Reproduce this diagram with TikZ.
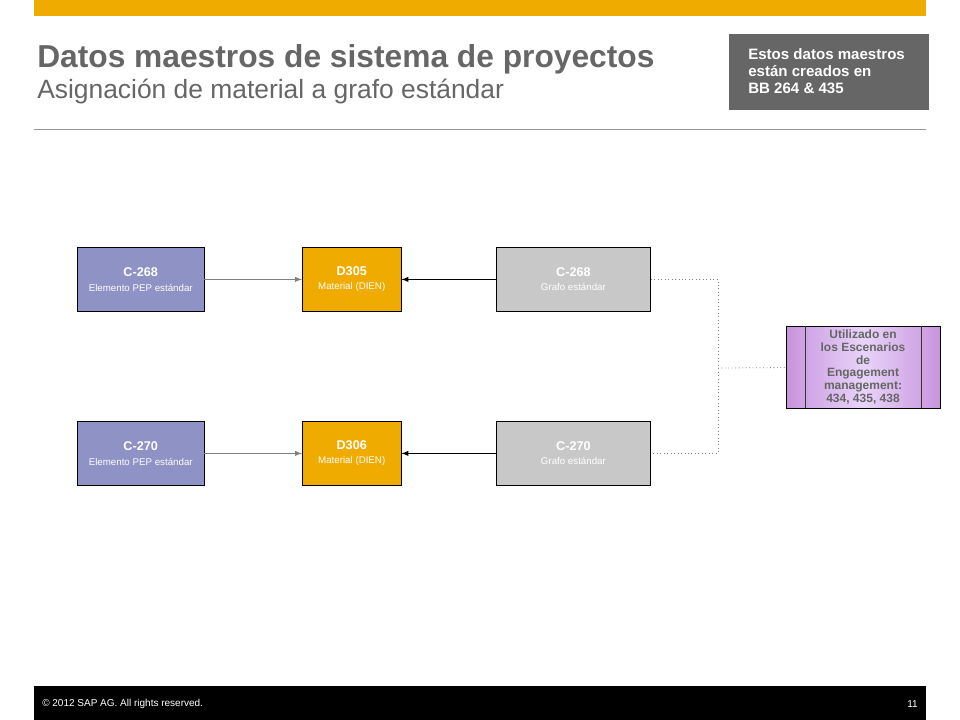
\documentclass[tikz,border=0pt]{standalone}
\usepackage{fontspec}
\setmainfont{Liberation Sans}
\newcommand{\smalltxt}{\fontsize{7.3}{8.5}\selectfont}
\begin{document}
\begin{tikzpicture}[x=0.75pt,y=-0.75pt,
 box/.style={draw=black,line width=0.6pt,anchor=north west,inner sep=0pt,align=center,font=\fontsize{9.5}{10.5}\selectfont,text=white},
 dot/.style={draw=gray,dotted,line width=0.6pt}]
\definecolor{sapor}{HTML}{F0AB00}
\definecolor{pep}{HTML}{8E92C4}
\definecolor{gr}{HTML}{C8C8C8}
\definecolor{pu}{HTML}{D9B8F5}
\useasboundingbox (0,0) rectangle (960,720);
\fill[white] (0,0) rectangle (960,720);
\fill[sapor] (34,0) rectangle (926,16);
\node[anchor=west,inner sep=0pt,text=black!60,font=\fontsize{23.8}{27}\selectfont\bfseries] (t) at (37,59) {Datos maestros de sistema de proyectos};
\node[anchor=west,inner sep=0pt,text=black!60,font=\fontsize{19.8}{23}\selectfont] (st) at (37,92) {Asignación de material a grafo estándar};
\node[fill=black!60,anchor=north west,minimum width=150pt,minimum height=57pt,inner sep=0pt] (g) at (729,34) {};
\node[anchor=north west,inner sep=0pt,text=white,align=left,font=\fontsize{11.3}{12.75}\selectfont\bfseries] (gt) at (748,48) {Estos datos maestros\\están creados en\\BB 264 \& 435};
\draw[black!40,line width=0.6pt] (34,129) -- (926,129);
\node[box,fill=pep,minimum width=95pt,minimum height=48pt] (a1) at (77,247) {\textbf{C-268}\\[1pt]{\smalltxt Elemento PEP estándar}};
\node[box,fill=sapor,minimum width=74pt,minimum height=48pt] (b1) at (302,247) {\textbf{D305}\\{\smalltxt Material (DIEN)}};
\node[box,fill=gr,minimum width=115.5pt,minimum height=48pt] (c1) at (496,247) {\textbf{C-268}\\{\smalltxt Grafo estándar}};
\node[box,fill=pep,minimum width=95pt,minimum height=48pt] (a2) at (77,421) {\textbf{C-270}\\[1pt]{\smalltxt Elemento PEP estándar}};
\node[box,fill=sapor,minimum width=74pt,minimum height=48pt] (b2) at (302,421) {\textbf{D306}\\{\smalltxt Material (DIEN)}};
\node[box,fill=gr,minimum width=115.5pt,minimum height=48pt] (c2) at (496,421) {\textbf{C-270}\\{\smalltxt Grafo estándar}};
\draw[gray,line width=0.8pt,-latex] (a1) -- (b1);
\draw[gray,line width=0.8pt,-latex] (a2) -- (b2);
\draw[black,line width=0.8pt,-latex] (c1) -- (b1);
\draw[black,line width=0.8pt,-latex] (c2) -- (b2);
\node[draw=black,line width=0.8pt,left color=pu!80!violet,right color=pu!80!violet,middle color=pu!60,anchor=north west,minimum width=115.5pt,minimum height=61.5pt,inner sep=0pt] (p) at (786,326) {};
\draw[black!80,line width=0.6pt] (805,326) -- (805,408) (921,326) -- (921,408);
\node[inner sep=0pt,align=center,text=black!60,font=\fontsize{9}{9.5}\selectfont\bfseries] (pt) at (863,367) {Utilizado en\\los Escenarios\\de\\Engagement\\management:\\434, 435, 438};
\coordinate (m) at (718,368);
\draw[dot] (c1.east) -| (m) |- (c2.east);
\draw[dot] (m) -- (p.west);
\fill[black] (34,686) rectangle (926,720);
\node[anchor=west,inner sep=0pt,text=white,font=\fontsize{7.5}{9}\selectfont] (f) at (42,704) {© 2012 SAP AG. All rights reserved.};
\node[anchor=east,inner sep=0pt,text=white,font=\fontsize{7.5}{9}\selectfont] (n) at (918,704) {11};
\end{tikzpicture}
\end{document}
